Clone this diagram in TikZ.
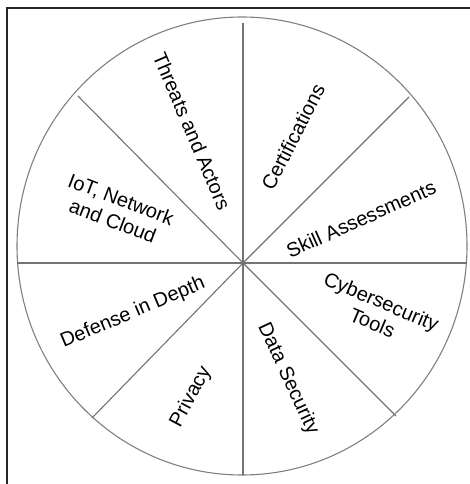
\documentclass[tikz,border=0pt]{standalone}
\usepackage{fontspec}
\setmainfont{Liberation Sans}
\usepackage{tikz}
\tikzset{
frame/.style={
draw=black!85,
line width=1.6pt
},
wheel/.style={
draw=black!50,
line width=1.1pt
},
spoke/.style={
draw=black!55,
line width=1.1pt
},
topic/.style={
align=center,
inner sep=0pt,
font=\fontsize{20}{23}\selectfont
}
}

\begin{document}
\begin{tikzpicture}[x=1pt,y=1pt]
\useasboundingbox (0,0) rectangle (469,484);

\draw[frame](7,476) rectangle (490,-20);

\coordinate (hub) at (243,221);
\coordinate (n) at (243,461);
\coordinate (ne) at (409,387);
\coordinate (e) at (467,221);
\coordinate (se) at (396,68);
\coordinate (s) at (243,9);
\coordinate (sw) at (92,66);
\coordinate (w) at (17,221);
\coordinate (nw) at (78,388);

\draw[wheel](242,238) ellipse [x radius=225,y radius=229];

\foreach \p in {n,ne,e,se,s,sw,w,nw}
\draw[spoke](hub)--(\p);

\node[topic,rotate=-67](threats) at (192,353){Threats and Actors};
\node[topic,rotate=63](certs) at (293,347){Certifications};
\node[topic,rotate=24](skills) at (361,265){Skill Assessments};
\node[topic,rotate=-23](tools) at (377,172){Cybersecurity\\Tools};
\node[topic,rotate=-65](data) at (288,105){Data Security};
\node[topic,rotate=62](privacy) at (191,87){Privacy};
\node[topic,rotate=23](defense) at (133,171){Defense in Depth};
\node[topic,rotate=-21](iot) at (117,274){IoT, Network\\and Cloud};

\end{tikzpicture}
\end{document}
